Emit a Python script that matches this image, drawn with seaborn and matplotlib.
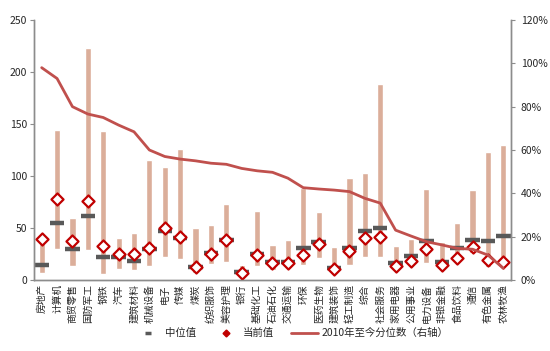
import numpy as np
import pandas as pd
import matplotlib
matplotlib.use("Agg")
import matplotlib.pyplot as plt
import matplotlib.ticker as ticker
from matplotlib.lines import Line2D
import seaborn as sns

# values
industries = ['房地产', '计算机', '商贸零售', '国防军工', '钢铁', '汽车', '建筑材料', '机械设备',
              '电子', '传媒', '煤炭', '纺织服饰', '美容护理', '银行', '基础化工', '石油石化',
              '交通运输', '环保', '医药生物', '建筑装饰', '轻工制造', '综合', '社会服务', '家用电器',
              '公用事业', '电力设备', '非银金融', '食品饮料', '通信', '有色金属', '农林牧渔']
range_high = [40, 144, 60, 223, 143, 40, 45, 115, 109, 126, 50, 53, 73, 14.4, 66, 33.7,
              38.5, 88, 65.7, 32, 97.8, 102.6, 188, 32.7, 39, 87.5, 36.8, 55, 86.5, 123.4, 129.8]
range_low = [6.4, 29.5, 13.5, 29, 5.8, 11, 10, 13.5, 22.4, 20, 6.4, 15.4, 17.6, 4.8, 13.5, 9.6,
             11.2, 14.4, 21.5, 6.4, 14.4, 22.4, 21.8, 12, 16, 16, 13, 18, 26, 12.8, 13.5]
median_val = [14.4, 55, 30, 62, 22, 22, 18.6, 30, 47, 40, 12.2, 25.6, 38.5, 7.4, 24.7, 17.6,
              17.6, 30.5, 36.9, 11.9, 30.4, 47, 49.7, 16, 23, 37.5, 17.6, 30.5, 38.5, 37.8, 42.3]
current_val = [39, 78, 37.5, 76, 33, 25, 25, 30.5, 49.7, 41, 12.2, 25.3, 38.8, 6.4, 24.4, 16.7,
               16.7, 24, 34.6, 10.6, 28.2, 40, 41.7, 13.5, 18.6, 29.5, 14.4, 20.8, 32, 19.2, 17.6]
pct_rank = [98, 93, 80, 76.6, 75, 71.5, 68.4, 60, 57, 55.8, 55, 53.9, 53.4, 51.5, 50.4, 49.7,
            47, 42.6, 42, 41.5, 40.8, 37.7, 35.5, 23, 20.3, 17.7, 16.2, 14.6, 14.2, 11.5, 5.4]

df = pd.DataFrame({'industry': industries, 'low': range_low, 'high': range_high,
                   'median': median_val, 'current': current_val, 'pct': pct_rank})
df['pos'] = np.arange(len(df))

bar_color = '#DBAE9A'
med_color = '#595959'
red = '#C00000'
line_color = '#C0504D'
spine_color = '#8C8C8C'

sns.set_theme(style='white')
plt.rcParams['font.family'] = ['Noto Sans CJK SC', 'DejaVu Sans']
plt.rcParams['axes.unicode_minus'] = False

fig = plt.figure(figsize=(5.5, 3.51), dpi=100)
ax = fig.add_axes([0.0618, 0.2023, 0.8673, 0.7407])

# min-max range bars
ax.bar(df['pos'], df['high'] - df['low'], bottom=df['low'], width=0.4, color=bar_color, zorder=1)
# median dashes
ax.hlines(df['median'], df['pos'] - 0.47, df['pos'] + 0.47, color=med_color, lw=3.2, zorder=2)
# current values
sns.scatterplot(data=df, x='pos', y='current', marker='D', s=38, color='white',
                edgecolor=red, linewidth=1.6, ax=ax, zorder=4, legend=False)

ax.set_xlim(-0.5, len(df) - 0.5)
ax.set_ylim(0, 250)
ax.set_yticks(range(0, 251, 50))
ax.set_xticks(df['pos'])
ax.set_xticklabels(industries, rotation=90, fontsize=7)
ax.xaxis.set_minor_locator(ticker.FixedLocator(np.arange(-0.5, len(df), 1)))
ax.tick_params(axis='x', which='major', length=0, pad=3)
ax.tick_params(axis='x', which='minor', length=3, color=spine_color, width=0.8, direction='out')
ax.tick_params(axis='y', length=3, color=spine_color, width=0.8, direction='out', labelsize=7.5, pad=2)
ax.set_xlabel('')
ax.set_ylabel('')

ax2 = ax.twinx()
sns.lineplot(data=df, x='pos', y='pct', color=line_color, lw=2, ax=ax2, zorder=3)
ax2.set_ylim(0, 120)
ax2.set_yticks(range(0, 121, 20))
ax2.yaxis.set_major_formatter(ticker.FuncFormatter(lambda v, p: f'{int(v)}%'))
ax2.tick_params(axis='y', length=3, color=spine_color, width=0.8, direction='out', labelsize=7.5, pad=4)
ax2.set_ylabel('')
ax2.set_xlim(-0.5, len(df) - 0.5)

for a in (ax, ax2):
    a.spines['top'].set_visible(False)
    for s in ('left', 'right', 'bottom'):
        a.spines[s].set_color(spine_color)
        a.spines[s].set_linewidth(1)

handles = [
    Line2D([], [], color=med_color, marker='_', linestyle='none', markersize=5, markeredgewidth=2.5),
    Line2D([], [], color=red, marker='D', linestyle='none', markersize=3.5),
    Line2D([], [], color=line_color, lw=2),
]
labels = ['中位值', '当前值', '2010年至今分位数（右轴）']
fig.legend(handles, labels, loc='center', bbox_to_anchor=(0.53, 0.051), ncol=3, frameon=False,
           fontsize=7.5, handlelength=2.6, columnspacing=1.6, handletextpad=0.3)

fig.savefig('out.png', dpi=100)
